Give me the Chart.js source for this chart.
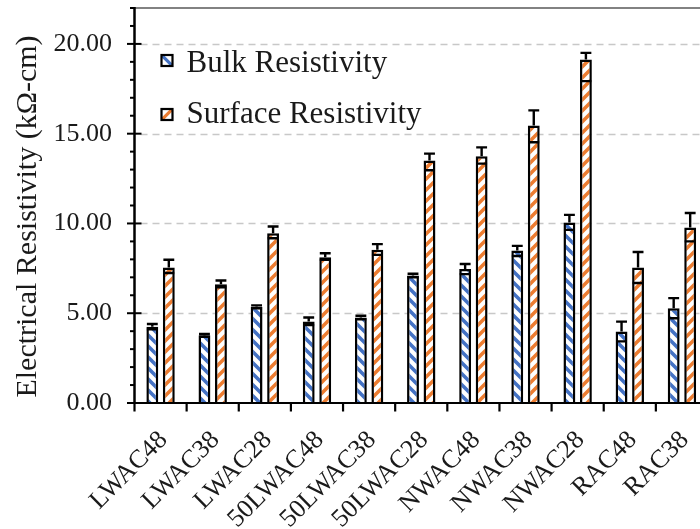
<!DOCTYPE html>
<html><head><meta charset="utf-8">
<script src="https://cdn.jsdelivr.net/npm/chart.js@4.4.0/dist/chart.umd.min.js"></script>
<style>
html,body{margin:0;padding:0;background:#fff;overflow:hidden}
#wrap{width:700px;height:529px;overflow:hidden;position:relative;background:#fff}
canvas{display:block}
</style></head>
<body><div id="wrap"><canvas id="c" width="708" height="529"></canvas></div>
<script>
const categories = ['LWAC48','LWAC38','LWAC28','50LWAC48','50LWAC38','50LWAC28','NWAC48','NWAC38','NWAC28','RAC48','RAC38'];
const bulkValues      = [4.25, 3.77, 5.36, 4.54, 4.76, 7.10, 7.46, 8.49, 10.06, 3.98, 5.28];
const bulkErrPlus     = [0.15, 0.08, 0.08, 0.22, 0.10, 0.10, 0.28, 0.26, 0.42, 0.55, 0.56];
const bulkErrMinus    = [0.15, 0.08, 0.08, 0.20, 0.10, 0.10, 0.28, 0.30, 0.42, 0.55, 0.56];
const surfaceValues   = [7.55, 6.62, 9.46, 8.12, 8.53, 13.50, 13.74, 15.45, 19.13, 7.55, 9.78];
const surfaceErrPlus  = [0.43, 0.20, 0.37, 0.22, 0.32, 0.39, 0.50, 0.85, 0.37, 0.86, 0.80];
const surfaceErrMinus = [0.31, 0.17, 0.28, 0.15, 0.28, 0.54, 0.41, 0.93, 1.20, 0.87, 0.78];
const yTickValues = [0, 5, 10, 15, 20];
const yMinorStep = 1;
const yMax = 22;
const seriesLabels = ['Bulk Resistivity', 'Surface Resistivity'];
const seriesColors = ['#4472C4', '#ED7D31'];
const yTitle = 'Electrical Resistivity (kΩ-cm)';

const SERIF = '"Liberation Serif", "Times New Roman", "DejaVu Serif", serif';

function makePattern(color, dir) {
  const s = 11;
  const c = document.createElement('canvas');
  c.width = s; c.height = s;
  const g = c.getContext('2d');
  g.fillStyle = '#fff'; g.fillRect(0, 0, s, s);
  g.strokeStyle = color; g.lineWidth = 3.6; g.lineCap = 'square';
  g.beginPath();
  for (const x0 of [-s, 0, s]) {
    if (dir === 'down') { g.moveTo(x0, 0); g.lineTo(x0 + s, s); }
    else { g.moveTo(x0, s); g.lineTo(x0 + s, 0); }
  }
  g.stroke();
  return g.createPattern(c, 'repeat');
}

const ctx0 = document.getElementById('c').getContext('2d');
const patterns = [makePattern(seriesColors[0], 'down'), makePattern(seriesColors[1], 'up')];

const decorPlugin = {
  id: 'decor',
  beforeDatasetsDraw(chart) {
    const {ctx, chartArea: a, scales: {y}} = chart;
    ctx.save();
    ctx.strokeStyle = '#c8c8c8'; ctx.lineWidth = 1.5; ctx.setLineDash([7, 5]);
    yTickValues.forEach(v => {
      if (v === 0) return;
      const py = Math.round(y.getPixelForValue(v)) + 0.5;
      ctx.beginPath(); ctx.moveTo(a.left + 6, py); ctx.lineTo(a.right, py); ctx.stroke();
    });
    ctx.restore();
  },
  afterDatasetsDraw(chart) {
    const {ctx, chartArea: a, scales: {x, y}} = chart;
    ctx.save();
    // error bars
    ctx.strokeStyle = '#000'; ctx.lineWidth = 2.4; ctx.setLineDash([]);
    chart.data.datasets.forEach((ds, di) => {
      const meta = chart.getDatasetMeta(di);
      meta.data.forEach((bar, i) => {
        const v = ds.data[i];
        const yT = y.getPixelForValue(v + ds.errPlus[i]);
        const yB = y.getPixelForValue(v - ds.errMinus[i]);
        const yV = y.getPixelForValue(v);
        const hw = bar.width / 2 - 0.5;
        ctx.beginPath();
        ctx.moveTo(bar.x, yT); ctx.lineTo(bar.x, yV);
        ctx.moveTo(bar.x - hw, yT); ctx.lineTo(bar.x + hw, yT);
        ctx.moveTo(bar.x - hw, yB); ctx.lineTo(bar.x + hw, yB);
        ctx.stroke();
      });
    });
    // top frame line
    ctx.strokeStyle = '#595959'; ctx.lineWidth = 1.5;
    ctx.beginPath(); ctx.moveTo(a.left, a.top); ctx.lineTo(a.right, a.top); ctx.stroke();
    // x axis line
    ctx.strokeStyle = '#000'; ctx.lineWidth = 2.2;
    ctx.beginPath(); ctx.moveTo(a.left, a.bottom); ctx.lineTo(a.right, a.bottom); ctx.stroke();
    // x ticks at category boundaries
    const catW = x.getPixelForValue(1) - x.getPixelForValue(0);
    for (let i = 0; i <= categories.length; i++) {
      const px = x.getPixelForValue(0) - catW / 2 + i * catW;
      ctx.beginPath(); ctx.moveTo(px, a.bottom); ctx.lineTo(px, a.bottom + 8.5); ctx.stroke();
    }
    // y axis line
    ctx.lineWidth = 2.5;
    ctx.beginPath(); ctx.moveTo(a.left, a.top - 1); ctx.lineTo(a.left, a.bottom + 1); ctx.stroke();
    // y minor & major ticks
    ctx.lineWidth = 2;
    for (let v = 0; v <= yMax; v += yMinorStep) {
      const py = y.getPixelForValue(v);
      ctx.beginPath();
      if (yTickValues.includes(v)) { ctx.moveTo(a.left - 7.5, py); ctx.lineTo(a.left + 7, py); }
      else { ctx.moveTo(a.left - 4.5, py); ctx.lineTo(a.left, py); }
      ctx.stroke();
    }
    ctx.restore();
  },
  afterDraw(chart) {
    const {ctx, chartArea: a} = chart;
    ctx.save();
    // y axis title
    ctx.fillStyle = '#1a1a1a';
    ctx.font = '30px ' + SERIF;
    ctx.textAlign = 'center'; ctx.textBaseline = 'middle';
    ctx.translate(28, (a.top + a.bottom) / 2 + 11);
    ctx.rotate(-Math.PI / 2);
    ctx.fillText(yTitle, 0, 0);
    ctx.restore();
    // legend
    ctx.save();
    ctx.font = '31px ' + SERIF;
    ctx.textAlign = 'left'; ctx.textBaseline = 'alphabetic';
    chart.data.datasets.forEach((ds, di) => {
      const bx = a.left + 27, by = a.top + 47 + di * 54;
      const s = 11;
      ctx.fillStyle = '#fff'; ctx.fillRect(bx, by, s, s);
      ctx.save();
      ctx.beginPath(); ctx.rect(bx, by, s, s); ctx.clip();
      ctx.strokeStyle = seriesColors[di]; ctx.lineWidth = 3.2;
      ctx.beginPath();
      if (di === 0) { ctx.moveTo(bx, by); ctx.lineTo(bx + s, by + s); }
      else { ctx.moveTo(bx, by + s); ctx.lineTo(bx + s, by); }
      ctx.stroke();
      ctx.restore();
      ctx.strokeStyle = '#000'; ctx.lineWidth = 2.2;
      ctx.strokeRect(bx, by, s, s);
      ctx.fillStyle = '#1a1a1a';
      ctx.fillText(ds.label, bx + 25, a.top + 64 + di * 50.5);
    });
    ctx.restore();
  }
};

new Chart(ctx0, {
  type: 'bar',
  data: {
    labels: categories,
    datasets: [
      { label: seriesLabels[0], data: bulkValues, errPlus: bulkErrPlus, errMinus: bulkErrMinus,
        backgroundColor: patterns[0], borderColor: '#000', borderWidth: 2.5,
        barPercentage: 0.72, categoryPercentage: 0.633 },
      { label: seriesLabels[1], data: surfaceValues, errPlus: surfaceErrPlus, errMinus: surfaceErrMinus,
        backgroundColor: patterns[1], borderColor: '#000', borderWidth: 2.5,
        barPercentage: 0.72, categoryPercentage: 0.633 }
    ]
  },
  options: {
    responsive: false,
    animation: false,
    devicePixelRatio: 1,
    layout: { padding: { left: 0, top: 8, right: 0, bottom: 0 } },
    plugins: { legend: { display: false }, tooltip: { enabled: false }, title: { display: false } },
    scales: {
      x: {
        grid: { display: false, drawTicks: false, tickLength: 0 },
        border: { display: false },
        ticks: {
          autoSkip: false, maxRotation: 45, minRotation: 45, labelOffset: 3, padding: 22,
          font: { family: SERIF, size: 26 }, color: '#1a1a1a'
        },
        afterFit(s) { s.height = 126; s.paddingLeft = 0; s.paddingRight = 0; }
      },
      y: {
        min: 0, max: yMax,
        grid: { display: false, drawTicks: false, tickLength: 0 },
        border: { display: false },
        afterBuildTicks(s) { s.ticks = yTickValues.map(v => ({ value: v })); },
        ticks: {
          padding: 22.5,
          font: { family: SERIF, size: 26 }, color: '#1a1a1a',
          callback: v => Number(v).toFixed(2)
        },
        afterFit(s) { s.width = 134.5; s.paddingTop = 0; s.paddingBottom = 0; }
      }
    }
  },
  plugins: [decorPlugin]
});
</script>
</body></html>
